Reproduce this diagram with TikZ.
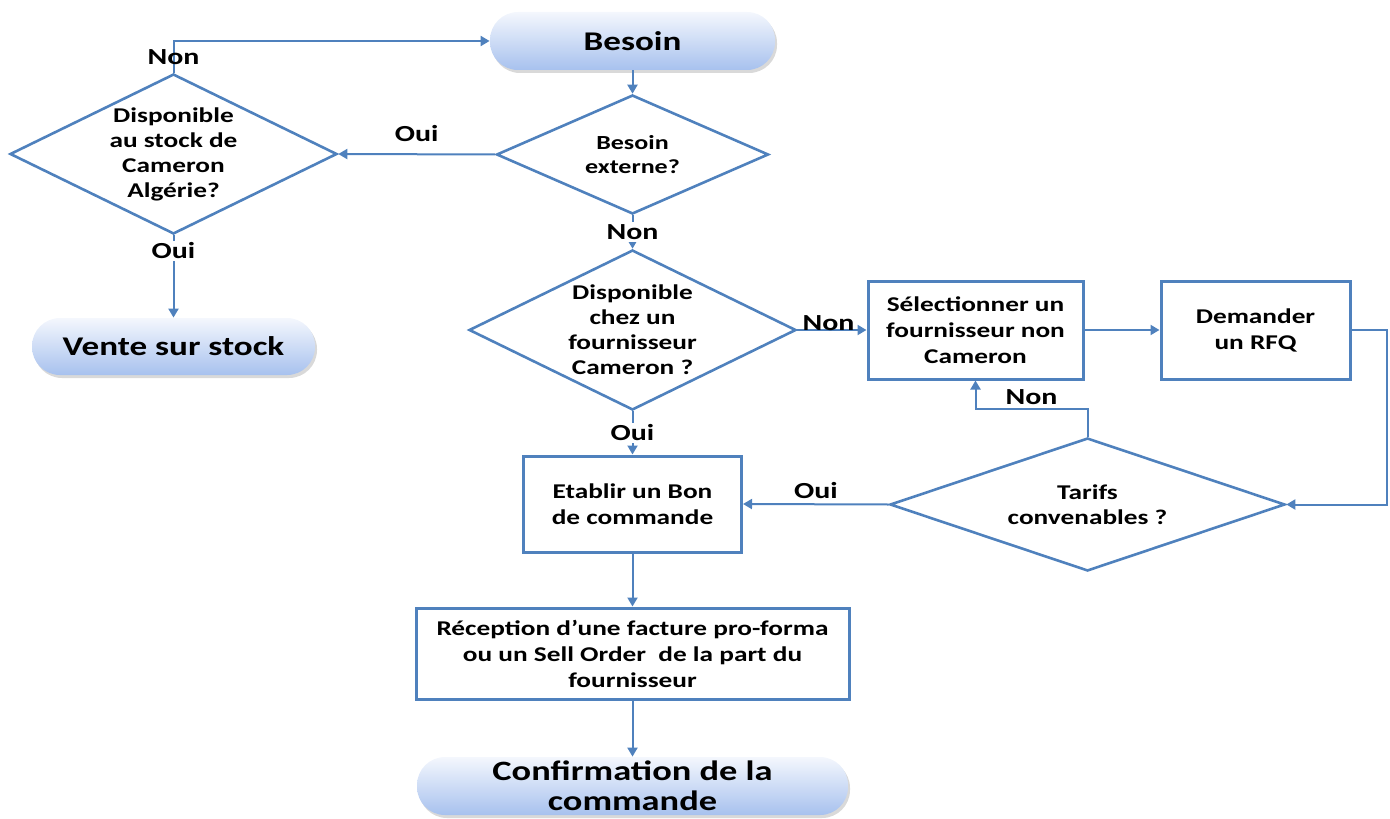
\documentclass[tikz,border=0pt]{standalone}
\usepackage{fontspec}
\setmainfont{Carlito}[FakeStretch=1.3]
\usetikzlibrary{shapes.geometric,arrows.meta,shadows}
\definecolor{flowblue}{HTML}{4F81BD}
\definecolor{pilltop}{HTML}{F4F7FD}
\definecolor{pillbottom}{HTML}{A7C1EE}
\tikzset{
    pill/.style={rounded corners=14pt,top color=pilltop,bottom color=pillbottom,
        drop shadow={opacity=0.3,shadow xshift=1pt,shadow yshift=-1.5pt},
        inner sep=0pt,align=center,font=\bfseries\fontsize{13.5}{15}\selectfont},
    box/.style={draw=flowblue,line width=1.5pt,inner sep=0pt,align=center,
        font=\bfseries\fontsize{10.5}{13}\selectfont},
    choice/.style={diamond,aspect=2.05,draw=flowblue,line width=1.3pt,inner sep=0pt,
        align=center,font=\bfseries\fontsize{10.5}{12.5}\selectfont},
    arr/.style={draw=flowblue,line width=1pt,-{Triangle[length=4.5pt,width=5pt]}},
    lbl/.style={font=\bfseries\fontsize{11.5}{13}\selectfont,inner sep=1pt}
}
\begin{document}
\begin{tikzpicture}[x=0.5pt,y=-0.5pt]
            \useasboundingbox (0,0) rectangle (1390,818);
            \node[pill,minimum width=142.5pt,minimum height=29pt] (besoin) at (632.5,41) {Besoin};
            \node[choice,minimum width=136pt,minimum height=59.5pt,font=\bfseries\fontsize{10}{12}\selectfont] (externe) at (632.5,154.5) {Besoin\\externe?};
            \node[choice,minimum width=163.5pt,minimum height=80pt] (stock) at (173.5,154) {Disponible\\au stock de\\Cameron\\Alg\'erie?};
            \node[pill,minimum width=141.5pt,minimum height=28.5pt] (vente) at (173.5,346.5) {Vente sur stock};
            \node[choice,minimum width=163.5pt,minimum height=80pt] (chez) at (632.5,330) {Disponible\\chez un\\fournisseur\\Cameron ?};
            \node[box,minimum width=107.5pt,minimum height=49pt] (select) at (975.5,330) {S\'electionner un\\fournisseur non\\Cameron};
            \node[box,minimum width=94.5pt,minimum height=49pt] (rfq) at (1255.5,330) {Demander\\un RFQ};
            \node[choice,aspect=3,minimum width=197.5pt,minimum height=66.5pt] (tarifs) at (1087.5,504.5) {Tarifs\\convenables ?};
            \node[box,minimum width=109pt,minimum height=48pt] (bon) at (632.5,504) {Etablir un Bon\\de commande};
            \node[box,minimum width=216.5pt,minimum height=45.5pt] (recep) at (632.5,653.5) {R\'eception d’une facture pro-forma\\ou un Sell Order\ \ de la part du\\fournisseur};
            \node[pill,minimum width=215.5pt,minimum height=29pt,font=\bfseries\fontsize{14}{15}\selectfont] (confirm) at (632.5,786) {Confirmation de la\\commande};
            \draw[arr] (besoin) -- (externe);
            \draw[arr] (externe.west) -- node[lbl,above=5pt]{Oui} (stock.east);
            \draw[arr] (stock.north) |- node[lbl,pos=0.25]{Non} (besoin.west);
            \draw[arr] (stock.south) -- node[lbl,fill=white,pos=0.19]{Oui} (vente.north);
            \draw[arr] (externe.south) -- node[lbl,fill=white]{Non} (chez.north);
            \draw[arr] (chez.east) -- node[lbl,anchor=base,inner sep=0pt,pos=0.45]{Non} (select.west);
            \draw[arr] (select) -- (rfq);
            \draw[arr] (rfq.east) -- ++(35,0) |- (tarifs.east);
            \draw[arr] (tarifs.north) -- ++(0,-28) -| node[lbl,anchor=base,inner sep=0pt,pos=0.25,yshift=2pt]{Non} (select.south);
            \draw[arr] (tarifs.west) -- node[lbl,anchor=base,inner sep=0pt,yshift=3pt]{Oui} (bon.east);
            \draw[arr] (chez.south) -- node[lbl,fill=white]{Oui} (bon.north);
            \draw[arr] (bon) -- (recep);
            \draw[arr] (recep) -- (confirm);
        \end{tikzpicture}
\end{document}
